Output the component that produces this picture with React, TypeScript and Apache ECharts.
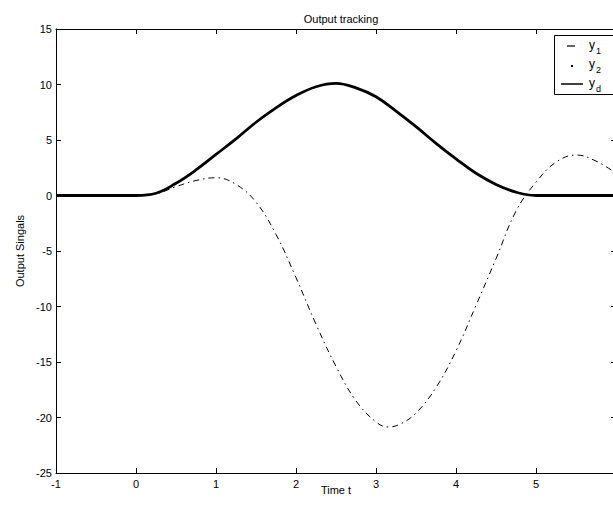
import React, { useEffect, useRef } from "react";
import * as echarts from "echarts";

const tD = [-1, -0.5, 0, 0.25, 0.5, 0.75, 1, 1.25, 1.5, 1.75, 2, 2.25, 2.5, 2.75, 3, 3.25, 3.5, 3.75, 4, 4.25, 4.5, 4.75, 5, 5.5, 6];
const yd = [0, 0, 0, 0.2, 1.1, 2.3, 3.7, 5.1, 6.6, 7.9, 9.0, 9.8, 10.1, 9.7, 8.9, 7.6, 6.2, 4.7, 3.3, 2.0, 1.0, 0.3, 0, 0, 0];
const y2 = [0, 0, 0, 0.2, 1.1, 2.3, 3.7, 5.1, 6.6, 7.9, 9.0, 9.8, 10.1, 9.7, 8.9, 7.6, 6.2, 4.7, 3.3, 2.0, 1.0, 0.3, 0, 0, 0];
const t1 = [-1, -0.5, 0, 0.25, 0.5, 0.75, 1, 1.25, 1.5, 1.75, 2, 2.25, 2.5, 2.75, 3, 3.15, 3.3, 3.5, 3.75, 4, 4.25, 4.5, 4.75, 5, 5.25, 5.5, 5.75, 6];
const y1 = [0, 0, 0, 0.15, 0.8, 1.35, 1.6, 1.0, -0.6, -3.5, -7.4, -11.6, -15.4, -18.5, -20.4, -20.85, -20.6, -19.6, -17.3, -14.0, -9.9, -5.7, -1.4, 1.2, 3.0, 3.65, 3.1, 2.0];
const xTicks = [-1, 0, 1, 2, 3, 4, 5, 6];
const yTicks = [-25, -20, -15, -10, -5, 0, 5, 10, 15];

const FONT = "Liberation Sans";

export default function App() {
  const ref = useRef<HTMLDivElement>(null);
  useEffect(() => {
    if (!ref.current) return;
    const chart = echarts.init(ref.current, undefined, { renderer: "svg" });
    const axisCommon = {
      axisLine: { show: true, onZero: false, lineStyle: { color: "#000", width: 1 } },
      axisTick: { show: true, inside: true, length: 5, lineStyle: { color: "#000" } },
      splitLine: { show: false },
    };
    chart.setOption({
      animation: false,
      backgroundColor: "#fff",
      title: {
        text: "Output tracking",
        left: 336,
        top: 8,
        textAlign: "center",
        textStyle: { fontFamily: FONT, fontSize: 11, fontWeight: "normal", color: "#000" },
      },
      grid: { left: 56, top: 29, width: 560, height: 444, outerBoundsMode: "none", containLabel: false },
      xAxis: [
        {
          type: "value",
          min: xTicks[0],
          max: xTicks[xTicks.length - 1],
          interval: 1,
          position: "bottom",
          axisLabel: { fontFamily: FONT, fontSize: 11, color: "#000", margin: 5, showMaxLabel: false },
          ...axisCommon,
        },
        {
          type: "value",
          min: xTicks[0],
          max: xTicks[xTicks.length - 1],
          interval: 1,
          position: "top",
          axisLabel: { show: false },
          ...axisCommon,
        },
      ],
      yAxis: [
        {
          type: "value",
          min: yTicks[0],
          max: yTicks[yTicks.length - 1],
          interval: 5,
          position: "left",
          name: "Output Singals",
          nameLocation: "middle",
          nameGap: 29,
          nameRotate: 90,
          nameTextStyle: { fontFamily: FONT, fontSize: 11, color: "#000" },
          axisLabel: { fontFamily: FONT, fontSize: 11, color: "#000", margin: 4 },
          ...axisCommon,
        },
        {
          type: "value",
          min: yTicks[0],
          max: yTicks[yTicks.length - 1],
          interval: 5,
          position: "right",
          axisLabel: { show: false },
          ...axisCommon,
        },
      ],
      series: [
        {
          name: "y1",
          type: "line",
          data: t1.map((t, i) => [t, y1[i]]),
          smooth: 0.4,
          showSymbol: false,
          lineStyle: { color: "#000", width: 1, type: [6, 4, 1.5, 4] },
          z: 3,
        },
        {
          name: "y2",
          type: "line",
          data: tD.map((t, i) => [t, y2[i]]),
          smooth: 0.4,
          showSymbol: false,
          lineStyle: { color: "#000", width: 1, type: [1, 3] },
          z: 2,
        },
        {
          name: "yd",
          type: "line",
          data: tD.map((t, i) => [t, yd[i]]),
          smooth: 0.4,
          showSymbol: false,
          lineStyle: { color: "#000", width: 2.8 },
          z: 4,
        },
      ],
      graphic: [
        {
          type: "text",
          x: 336,
          y: 484,
          style: { text: "Time t", fontFamily: FONT, fontSize: 11, fill: "#000", align: "center", verticalAlign: "top" },
        },
        {
          type: "rect",
          shape: { x: 554.5, y: 35.5, width: 64, height: 59 },
          style: { fill: "#fff", stroke: "#000", lineWidth: 1 },
          z: 10,
        },
        { type: "line", shape: { x1: 567, y1: 46, x2: 575, y2: 46 }, style: { stroke: "#000", lineWidth: 1.2 }, z: 11 },
        { type: "rect", shape: { x: 571, y: 65, width: 2, height: 2 }, style: { fill: "#000" }, z: 11 },
        { type: "line", shape: { x1: 561, y1: 84, x2: 583, y2: 84 }, style: { stroke: "#000", lineWidth: 1.5 }, z: 11 },
        { type: "text", x: 589, y: 39, style: { text: "y", fontFamily: FONT, fontSize: 12, fill: "#000" }, z: 11 },
        { type: "text", x: 596, y: 46, style: { text: "1", fontFamily: FONT, fontSize: 9, fill: "#000" }, z: 11 },
        { type: "text", x: 589, y: 58, style: { text: "y", fontFamily: FONT, fontSize: 12, fill: "#000" }, z: 11 },
        { type: "text", x: 596, y: 65, style: { text: "2", fontFamily: FONT, fontSize: 9, fill: "#000" }, z: 11 },
        { type: "text", x: 589, y: 77, style: { text: "y", fontFamily: FONT, fontSize: 12, fill: "#000" }, z: 11 },
        { type: "text", x: 596, y: 84, style: { text: "d", fontFamily: FONT, fontSize: 9, fill: "#000" }, z: 11 },
      ],
    });
    return () => chart.dispose();
  }, []);
  return (
    <div
      ref={ref}
      style={{ position: "fixed", left: 0, top: 0, width: 613, height: 508, background: "#fff" }}
    />
  );
}
